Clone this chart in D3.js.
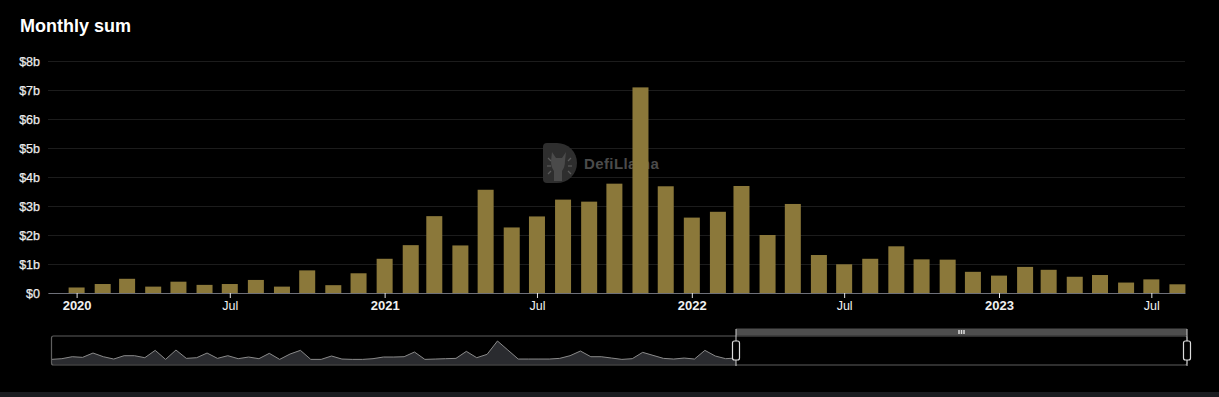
<!DOCTYPE html>
<html>
<head>
<meta charset="utf-8">
<script src="https://cdn.jsdelivr.net/npm/d3@7"></script>
<style>
  html, body { margin: 0; padding: 0; background: #000; }
  svg { display: block; font-family: "Liberation Sans", Arial, sans-serif; }
</style>
</head>
<body>
<div id="chart"></div>
<script>
// monthly totals, in $ billions
const months = [
  '2020-01', '2020-02', '2020-03', '2020-04', '2020-05', '2020-06', '2020-07', '2020-08', '2020-09', '2020-10', '2020-11', '2020-12',
  '2021-01', '2021-02', '2021-03', '2021-04', '2021-05', '2021-06', '2021-07', '2021-08', '2021-09', '2021-10', '2021-11', '2021-12',
  '2022-01', '2022-02', '2022-03', '2022-04', '2022-05', '2022-06', '2022-07', '2022-08', '2022-09', '2022-10', '2022-11', '2022-12',
  '2023-01', '2023-02', '2023-03', '2023-04', '2023-05', '2023-06', '2023-07', '2023-08'
];
const monthlySum = [
  0.19, 0.31, 0.49, 0.22, 0.39, 0.28, 0.31, 0.45, 0.22, 0.78, 0.27, 0.68,
  1.18, 1.65, 2.65, 1.64, 3.56, 2.26, 2.64, 3.22, 3.15, 3.77, 7.09, 3.68,
  2.60, 2.80, 3.69, 2.00, 3.07, 1.31, 0.99, 1.18, 1.61, 1.16, 1.15, 0.73,
  0.60, 0.90, 0.80, 0.56, 0.62, 0.36, 0.47, 0.30
];
const yTicks = [0, 1, 2, 3, 4, 5, 6, 7, 8];
const xTicks = ['2020-01', '2020-07', '2021-01', '2021-07', '2022-01', '2022-07', '2023-01', '2023-07'];

// data-zoom shadow series (relative values)
const sliderValues = [
  0.12, 0.38, 1.12, 0.88, 2.5, 1.12, 0.25, 1.5, 1.5, 0.75, 3.5, 0.12, 3.62, 0.5, 0.75, 2.5, 0.5,
  1.5, 0.38, 1.0, 0.38, 2.38, 0.12, 2.12, 3.5, 0.12, 0.12, 1.38, 0.25, 0.12, 0.12, 0.38, 1.0, 1.0,
  1.12, 2.88, 0.12, 0.25, 0.38, 0.5, 3.12, 0.75, 2.0, 7.0, 3.62, 0.25, 0.25, 0.25, 0.25, 0.5, 1.5,
  3.25, 1.12, 1.12, 0.62, 0.12, 0.38, 2.75, 1.62, 0.5, 0.25, 0.62, 0.25, 3.5, 1.38, 0.38, 0.62
];

const WIDTH = 1219;
const HEIGHT = 397;
const PLOT_LEFT = 48;
const PLOT_RIGHT = 1185;
const PLOT_TOP = 61;
const PLOT_BOTTOM = 293;
const BAR_WIDTH = 16;
const BAR_COLOR = '#8b783a';

const parseMonth = d3.timeParse('%Y-%m');
const data = months.map((m, i) => ({ date: parseMonth(m), value: monthlySum[i] }));

const svg = d3.select('#chart')
  .append('svg')
  .attr('width', WIDTH)
  .attr('height', HEIGHT)
  .attr('viewBox', `0 0 ${WIDTH} ${HEIGHT}`);

svg.append('rect').attr('width', WIDTH).attr('height', HEIGHT).attr('fill', '#000');

svg.append('text')
  .attr('x', 20)
  .attr('y', 32)
  .attr('fill', '#fff')
  .style('font-size', '18px')
  .style('font-weight', 700)
  .text('Monthly sum');

const x = d3.scaleTime()
  .domain([new Date(2019, 10, 28), new Date(2023, 7, 10)])
  .range([PLOT_LEFT, PLOT_RIGHT]);

const y = d3.scaleLinear().domain([0, 8]).range([PLOT_BOTTOM, PLOT_TOP]);

// y axis + gridlines
const yAxis = d3.axisLeft(y)
  .tickValues(yTicks)
  .tickSize(-(PLOT_RIGHT - PLOT_LEFT))
  .tickPadding(8)
  .tickFormat(d => `$${d}${d === 0 ? '' : 'b'}`);

const gy = svg.append('g')
  .attr('class', 'y axis')
  .attr('transform', `translate(${PLOT_LEFT},0)`)
  .call(yAxis);
gy.select('.domain').remove();
gy.selectAll('line').attr('stroke', '#1c1c1c');
gy.selectAll('text')
  .attr('fill', '#ececec')
  .attr('stroke', '#ececec')
  .attr('stroke-width', 0.25)
  .style('font-size', '12.5px')
  .style('font-weight', 400);

// watermark, sits behind the bars
const wm = svg.append('g').attr('class', 'watermark');
wm.append('path')
  .attr('d', 'M543,147 q0,-4 4,-4 h10 a20,20 0 0 1 0,40 h-10 q-4,0 -4,-4 z')
  .attr('fill', '#2e2e2e');
wm.append('path')
  .attr('d', 'M552,152 l4,6 h6 l4,-6 l-1,9 q0,6 -3,10 v10 h-8 v-10 q-3,-4 -3,-10 z')
  .attr('fill', '#4a4a4a');
[[548, 158, 551, 161], [547, 166, 551, 166], [548, 174, 551, 171], [571, 158, 568, 161], [572, 166, 568, 166], [571, 174, 568, 171]]
  .forEach(s => wm.append('line')
    .attr('x1', s[0]).attr('y1', s[1]).attr('x2', s[2]).attr('y2', s[3])
    .attr('stroke', '#5a5a5a').attr('stroke-width', 1.2));
wm.append('text')
  .attr('x', 584)
  .attr('y', 169)
  .attr('fill', '#4b4b4b')
  .style('font-size', '15px')
  .style('font-weight', 700)
  .style('letter-spacing', '0.4px')
  .text('DefiLlama');

// bars
svg.append('g')
  .attr('class', 'layer')
  .attr('fill', BAR_COLOR)
  .selectAll('rect')
  .data(data)
  .enter()
  .append('rect')
  .attr('x', d => x(d.date) - BAR_WIDTH / 2)
  .attr('width', BAR_WIDTH)
  .attr('y', d => y(d.value))
  .attr('height', d => y(0) - y(d.value));

// x axis
const xAxis = d3.axisBottom(x)
  .tickValues(xTicks.map(parseMonth))
  .tickSizeInner(5)
  .tickSizeOuter(0)
  .tickPadding(3)
  .tickFormat(d => d.getMonth() === 0 ? d3.timeFormat('%Y')(d) : d3.timeFormat('%b')(d));

const gx = svg.append('g')
  .attr('class', 'x axis')
  .attr('transform', `translate(0,${PLOT_BOTTOM})`)
  .call(xAxis);
gx.select('.domain').attr('stroke', '#6e7079');
gx.selectAll('.tick line').attr('stroke', '#e6e6e6');
gx.selectAll('.tick text')
  .attr('fill', '#f0f0f0')
  .style('font-size', d => d.getMonth() === 0 ? '13px' : '12.5px')
  .style('font-weight', d => d.getMonth() === 0 ? 700 : 400);

// data zoom slider
const SL_LEFT = 51.5;
const SL_RIGHT = 1187;
const SL_TOP = 336;
const SL_BOTTOM = 365;
const SL_HANDLE = 736;

const sx = d3.scaleLinear().domain([0, sliderValues.length - 1]).range([SL_LEFT, SL_HANDLE]);
const sy = d3.scaleLinear().domain([0, 7]).range([359.7, 341]);

const slider = svg.append('g').attr('class', 'slider');

slider.append('path')
  .datum(sliderValues)
  .attr('fill', '#2a2b2f')
  .attr('d', d3.area().x((d, i) => sx(i)).y0(SL_BOTTOM - 0.5).y1(d => sy(d)));
slider.append('path')
  .datum(sliderValues)
  .attr('fill', 'none')
  .attr('stroke', '#8a8a8a')
  .attr('stroke-width', 1)
  .attr('d', d3.line().x((d, i) => sx(i)).y(d => sy(d)));

slider.append('rect')
  .attr('x', SL_LEFT)
  .attr('y', SL_TOP)
  .attr('width', SL_RIGHT - SL_LEFT)
  .attr('height', SL_BOTTOM - SL_TOP)
  .attr('rx', 2)
  .attr('fill', 'none')
  .attr('stroke', '#5f5f5f')
  .attr('stroke-width', 1.2);

slider.append('rect')
  .attr('x', SL_HANDLE)
  .attr('y', 328.5)
  .attr('width', SL_RIGHT - SL_HANDLE)
  .attr('height', 7)
  .attr('fill', '#4e4e4e');

const grip = (SL_HANDLE + SL_RIGHT) / 2;
[-2.5, 0, 2.5].forEach(o => slider.append('rect')
  .attr('x', grip + o - 0.75)
  .attr('y', 330)
  .attr('width', 1.5)
  .attr('height', 4)
  .attr('fill', '#ddd'));

[SL_HANDLE, SL_RIGHT].forEach(hx => {
  slider.append('line')
    .attr('x1', hx).attr('x2', hx)
    .attr('y1', 329).attr('y2', 366)
    .attr('stroke', '#cfcfcf')
    .attr('stroke-width', 1);
  slider.append('rect')
    .attr('x', hx - 3.5)
    .attr('y', 341)
    .attr('width', 7)
    .attr('height', 19)
    .attr('rx', 2)
    .attr('fill', '#000')
    .attr('stroke', '#dcdcdc')
    .attr('stroke-width', 1.2);
});

svg.append('rect')
  .attr('x', 0)
  .attr('y', 392)
  .attr('width', WIDTH)
  .attr('height', HEIGHT - 392)
  .attr('fill', '#1b1c20');
</script>
</body>
</html>
